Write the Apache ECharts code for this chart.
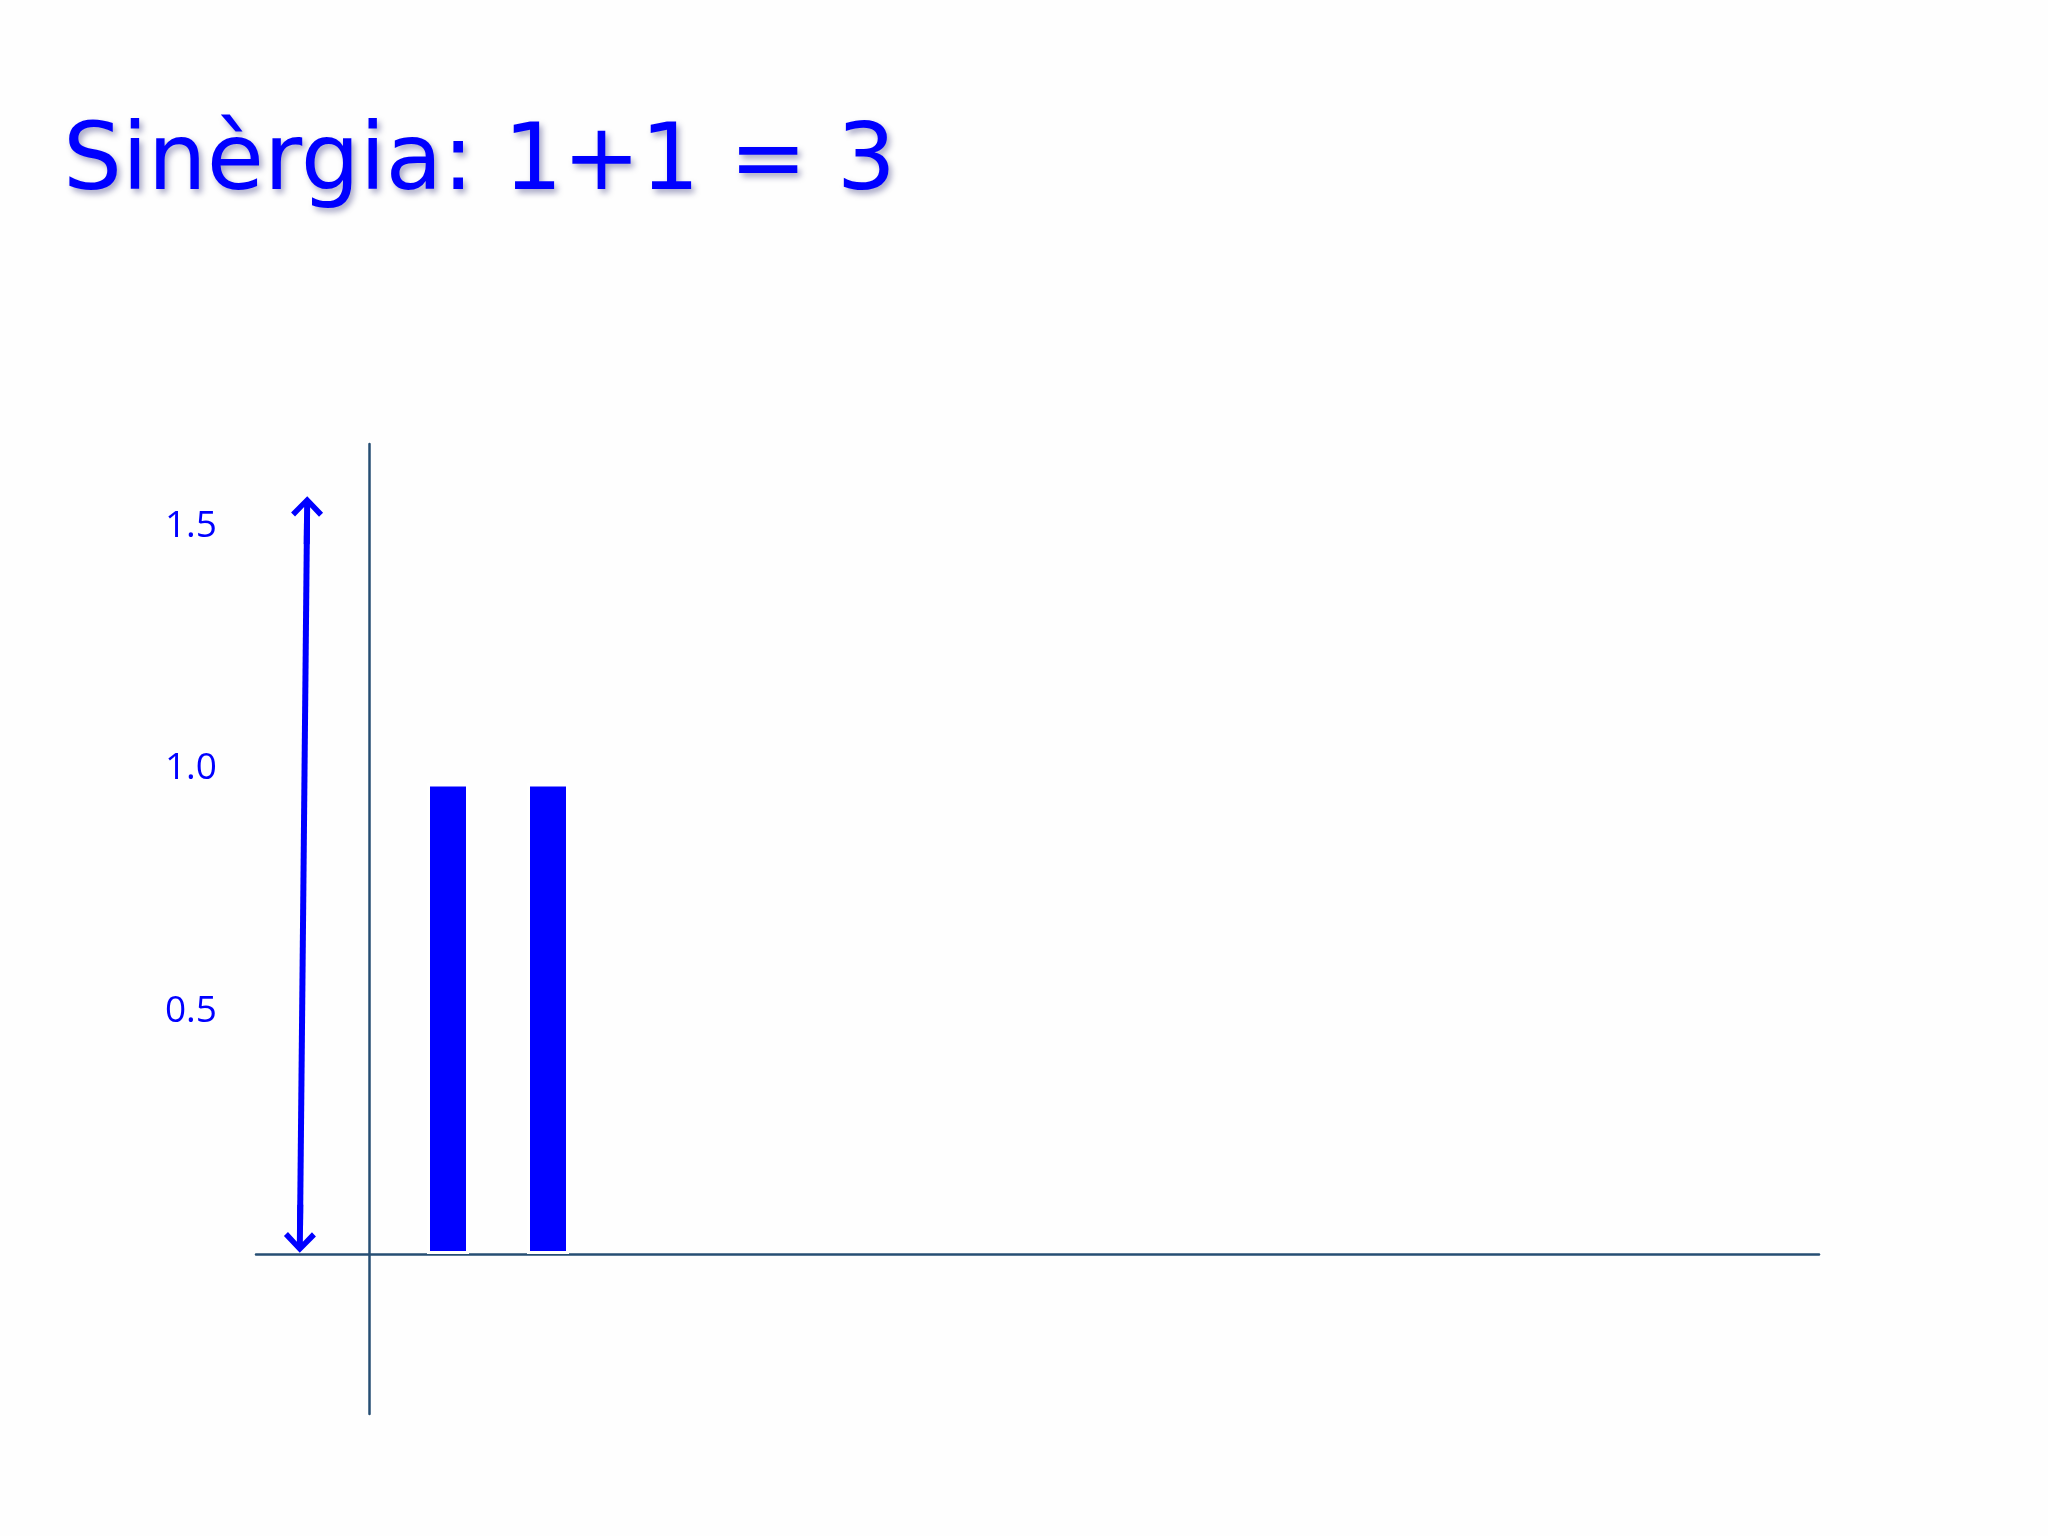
<!DOCTYPE html>
<html>
<head>
<meta charset="utf-8">
<script src="https://cdn.jsdelivr.net/npm/echarts@6/dist/echarts.min.js"></script>
<style>
  html, body { margin: 0; padding: 0; background: #fefefe; }
  #chart { width: 2048px; height: 1536px; }
</style>
</head>
<body>
<div id="chart"></div>
<script>
// ---- data ----
const titleText = 'Sinèrgia: 1+1 = 3';
const barPositions = [1, 2];
const barValues = [0.97, 0.97];
const yTickValues = [0.5, 1.0, 1.5];
const arrowTop = [-0.41, 1.513];
const arrowBottom = [-0.48, 0.052];

const chevron = 'path://M16,0 L32,16.5 L28,20.5 L19,11 L19,48 L13,48 L13,11 L4,20.5 L0,16.5 Z';
const axisColor = '#264E73';
const blue = '#0000FF';

const chart = echarts.init(document.getElementById('chart'), null, { renderer: 'canvas' });
chart.setOption({
  backgroundColor: '#fefefe',
  animation: false,
  title: {
    text: titleText,
    left: 58,
    top: 113,
    textStyle: {
      fontFamily: 'DejaVu Sans',
      fontWeight: 'normal',
      fontSize: 93,
      color: blue,
      textShadowColor: 'rgba(0,0,90,0.35)',
      textShadowBlur: 6,
      textShadowOffsetX: 3,
      textShadowOffsetY: 4
    }
  },
  grid: { left: 256, right: 229, top: 444, bottom: 122, containLabel: false },
  xAxis: {
    type: 'value',
    min: -0.92,
    max: 14.71,
    axisLine: { show: true, onZero: true, lineStyle: { color: axisColor, width: 2.5 } },
    axisTick: { show: false },
    axisLabel: { show: false },
    splitLine: { show: false }
  },
  yAxis: {
    type: 'value',
    min: -0.33,
    max: 1.67,
    offset: -113,
    axisLine: { show: true, onZero: false, lineStyle: { color: axisColor, width: 2.5 } },
    axisTick: { show: false },
    splitLine: { show: false },
    axisLabel: {
      customValues: yTickValues,
      formatter: v => v.toFixed(1),
      margin: 152,
      color: blue,
      fontFamily: 'Open Sans',
      fontSize: 37
    }
  },
  series: [{
    type: 'bar',
    data: barPositions.map((x, i) => [x, barValues[i]]),
    barWidth: 42,
    itemStyle: { color: blue, borderColor: '#ffffff', borderWidth: 3 },
    silent: true,
    markLine: {
      silent: true,
      symbol: [chevron, chevron],
      symbolSize: [32, 48],
      label: { show: false },
      lineStyle: { color: blue, width: 6, type: 'solid' },
      itemStyle: { color: blue },
      emphasis: { disabled: true },
      data: [[{ coord: arrowTop }, { coord: arrowBottom }]]
    }
  }]
});
</script>
</body>
</html>
